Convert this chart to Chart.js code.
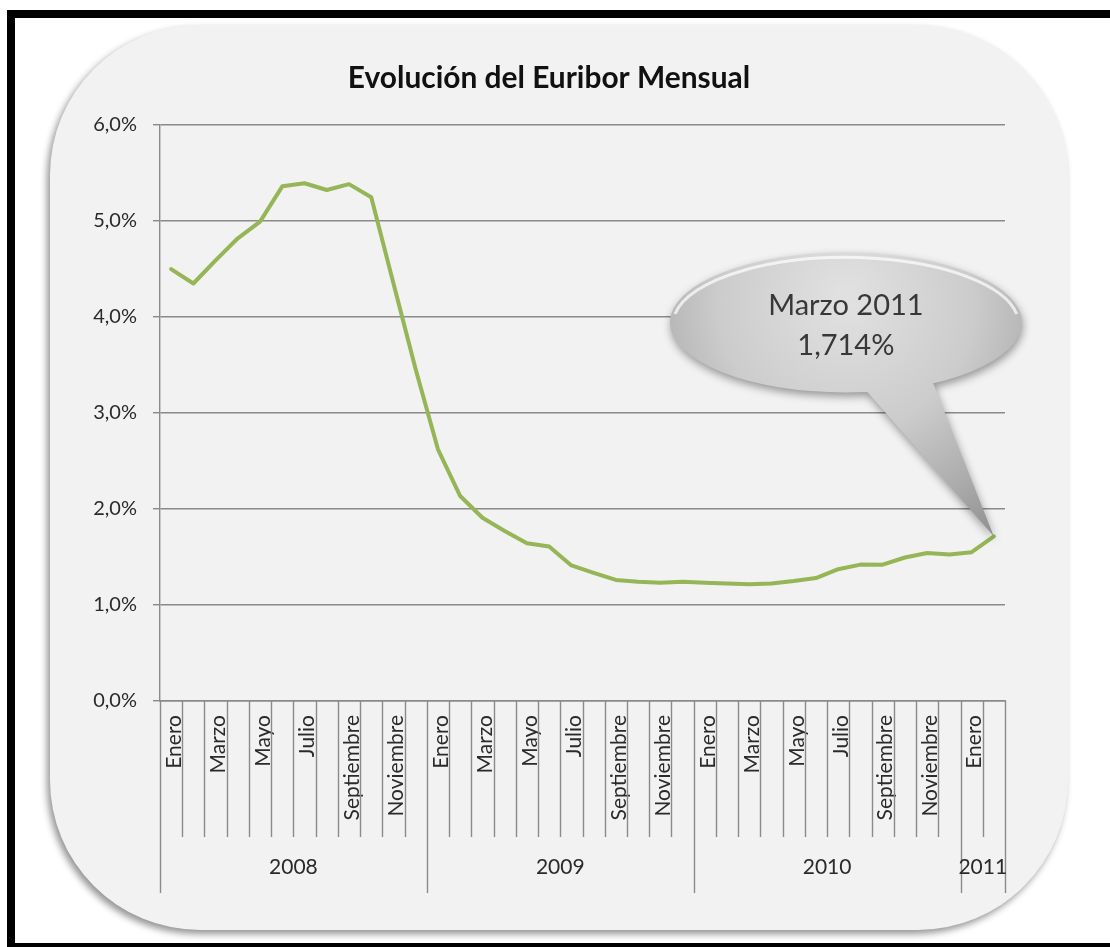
<!DOCTYPE html>
<html lang="es">
<head>
<meta charset="utf-8">
<title>Evolución del Euribor Mensual</title>
<script src="https://cdn.jsdelivr.net/npm/chart.js@4/dist/chart.umd.min.js"></script>
<style>
  html, body { margin: 0; padding: 0; background: #ffffff; }
  body { width: 1110px; height: 947px; position: relative; overflow: hidden; }
  .marco {
    position: absolute; left: 7px; top: 10px; width: 1103px; height: 937px;
    box-sizing: border-box;
    border-top: 8px solid #000; border-left: 8px solid #000; border-bottom: 4px solid #000;
  }
  .panel {
    position: absolute; left: 50px; top: 25px; width: 1018px; height: 905px;
    border-radius: 150px; background: #f2f2f2;
    box-shadow: -3px 4px 7px rgba(0, 0, 0, 0.42);
  }
  canvas { position: absolute; left: 0; top: 0; }
</style>
</head>
<body>
<div class="marco"></div>
<div class="panel"></div>
<canvas id="grafico" width="1110" height="947"></canvas>
<script>
// Euribor a 12 meses, media mensual (%), enero 2008 - febrero 2011
const meses = [
  'Enero','Febrero','Marzo','Abril','Mayo','Junio','Julio','Agosto','Septiembre','Octubre','Noviembre','Diciembre',
  'Enero','Febrero','Marzo','Abril','Mayo','Junio','Julio','Agosto','Septiembre','Octubre','Noviembre','Diciembre',
  'Enero','Febrero','Marzo','Abril','Mayo','Junio','Julio','Agosto','Septiembre','Octubre','Noviembre','Diciembre',
  'Enero','Febrero'
];
const anios = ['2008', '2009', '2010', '2011'];
const mesesPorAnio = [12, 12, 12, 2];
const euribor = [
  4.498, 4.349, 4.590, 4.820, 4.994, 5.361, 5.393, 5.323, 5.384, 5.248, 4.350, 3.452,
  2.622, 2.135, 1.909, 1.771, 1.644, 1.610, 1.412, 1.334, 1.261, 1.243, 1.231, 1.242,
  1.232, 1.225, 1.215, 1.225, 1.249, 1.281, 1.373, 1.421, 1.420, 1.495, 1.541, 1.526,
  1.550, 1.714
];
const titulo = 'Evolución del Euribor Mensual';
const etiquetaUltimo = 'Marzo 2011';
const ticksY = [0, 1, 2, 3, 4, 5, 6];

const FUENTE = 'Lato, "Open Sans", sans-serif';
const GRIS_EJE = '#8a8a8a';
const TEXTO = '#2a2a2a';

const pct = (v, dec) => v.toFixed(dec).replace('.', ',') + '%';

// Marcas del eje de categorías: separadores de mes y de año, y rótulos de año
const ejeCategorias = {
  id: 'ejeCategorias',
  afterDraw(chart) {
    const x = chart.scales.x;
    const c = chart.ctx;
    const y0 = chart.chartArea.bottom;
    const borde = i => x.getPixelForValue(i - 0.5);
    const limitesAnio = [0];
    mesesPorAnio.forEach(n => limitesAnio.push(limitesAnio[limitesAnio.length - 1] + n));
    c.save();
    c.strokeStyle = GRIS_EJE;
    c.lineWidth = 1.4;
    for (let i = 0; i <= meses.length; i++) {
      const largo = limitesAnio.includes(i) ? 192 : 136;
      const px = Math.round(borde(i)) + 0.5;
      c.beginPath();
      c.moveTo(px, y0);
      c.lineTo(px, y0 + largo);
      c.stroke();
    }
    c.fillStyle = TEXTO;
    c.font = '21px ' + FUENTE;
    c.textAlign = 'center';
    c.textBaseline = 'middle';
    anios.forEach((a, k) => {
      const xm = (borde(limitesAnio[k]) + borde(limitesAnio[k + 1])) / 2;
      c.fillText(a, xm, y0 + 166);
    });
    c.restore();
  }
};

// Título centrado sobre el gráfico
const tituloGrafico = {
  id: 'tituloGrafico',
  afterDraw(chart) {
    const c = chart.ctx;
    c.save();
    c.font = 'bold 26px ' + FUENTE;
    const w = c.measureText(titulo).width;
    const size = 26 * 402 / w;
    c.font = 'bold ' + size.toFixed(1) + 'px ' + FUENTE;
    c.fillStyle = '#111111';
    c.textAlign = 'center';
    c.textBaseline = 'alphabetic';
    c.fillText(titulo, 549, 88);
    c.restore();
  }
};

// Globo de texto que señala el último valor de la serie
const globo = {
  id: 'globo',
  afterDraw(chart) {
    const meta = chart.getDatasetMeta(0);
    const ult = euribor.length - 1;
    const p = meta.data[ult];
    const tx = p.x, ty = p.y;
    const cx = tx - 148, cy = ty - 214, rx = 176, ry = 70;
    const c = chart.ctx;
    c.save();
    c.beginPath();
    c.ellipse(cx, cy, rx, ry, 0, 0, Math.PI * 2, false);
    c.moveTo(cx + 15, cy + 62);
    c.lineTo(cx + 85, cy + 55);
    c.lineTo(tx, ty);
    c.closePath();
    const g = c.createRadialGradient(cx, cy - 25, 10, cx, cy - 10, 270);
    g.addColorStop(0, '#e0e0e0');
    g.addColorStop(0.45, '#cccccc');
    g.addColorStop(0.75, '#adadad');
    g.addColorStop(1, '#8e8e8e');
    c.fillStyle = g;
    c.shadowColor = 'rgba(0,0,0,0.38)';
    c.shadowBlur = 9;
    c.shadowOffsetX = 1;
    c.shadowOffsetY = 4;
    c.fill('nonzero');
    c.shadowColor = 'transparent';
    // brillo superior del borde
    c.beginPath();
    c.ellipse(cx, cy + 2, rx - 3, ry - 3, 0, Math.PI * 1.05, Math.PI * 1.95, false);
    c.strokeStyle = 'rgba(255,255,255,0.7)';
    c.lineWidth = 3;
    c.stroke();
    c.fillStyle = '#383838';
    c.font = '29px ' + FUENTE;
    c.textAlign = 'center';
    c.textBaseline = 'middle';
    c.fillText(etiquetaUltimo, cx, cy - 17);
    c.fillText(pct(euribor[ult], 3), cx, cy + 23);
    c.restore();
  }
};

new Chart(document.getElementById('grafico'), {
  type: 'line',
  data: {
    labels: meses,
    datasets: [{
      data: euribor,
      borderColor: '#95b556',
      borderWidth: 4,
      pointRadius: 0,
      tension: 0,
      fill: false,
      borderJoinStyle: 'round',
      borderCapStyle: 'round'
    }]
  },
  options: {
    responsive: false,
    animation: false,
    devicePixelRatio: 1,
    layout: { padding: { top: 125, right: 105, left: 0, bottom: 0 } },
    plugins: {
      legend: { display: false },
      tooltip: { enabled: false },
      title: { display: false }
    },
    scales: {
      x: {
        offset: true,
        afterFit: s => { s.height = 246; },
        grid: { display: true, drawOnChartArea: false, drawTicks: false, offset: true, color: 'transparent' },
        border: { display: true, color: GRIS_EJE, width: 1.4 },
        ticks: {
          autoSkip: false,
          minRotation: 90,
          maxRotation: 90,
          padding: 14,
          labelOffset: 3,
          color: TEXTO,
          font: { family: FUENTE, size: 21 },
          callback: function (v, i) { return i % 2 === 0 ? this.getLabelForValue(v) : ''; }
        }
      },
      y: {
        min: ticksY[0],
        max: ticksY[ticksY.length - 1],
        afterFit: s => { s.width = 160; },
        afterBuildTicks: s => { s.ticks = ticksY.map(v => ({ value: v })); },
        grid: { color: GRIS_EJE, lineWidth: 1.4, tickLength: 7 },
        border: { display: true, color: GRIS_EJE, width: 1.4 },
        ticks: {
          padding: 16,
          color: TEXTO,
          font: { family: FUENTE, size: 20 },
          callback: v => pct(v, 1)
        }
      }
    }
  },
  plugins: [ejeCategorias, tituloGrafico, globo]
});
</script>
</body>
</html>
